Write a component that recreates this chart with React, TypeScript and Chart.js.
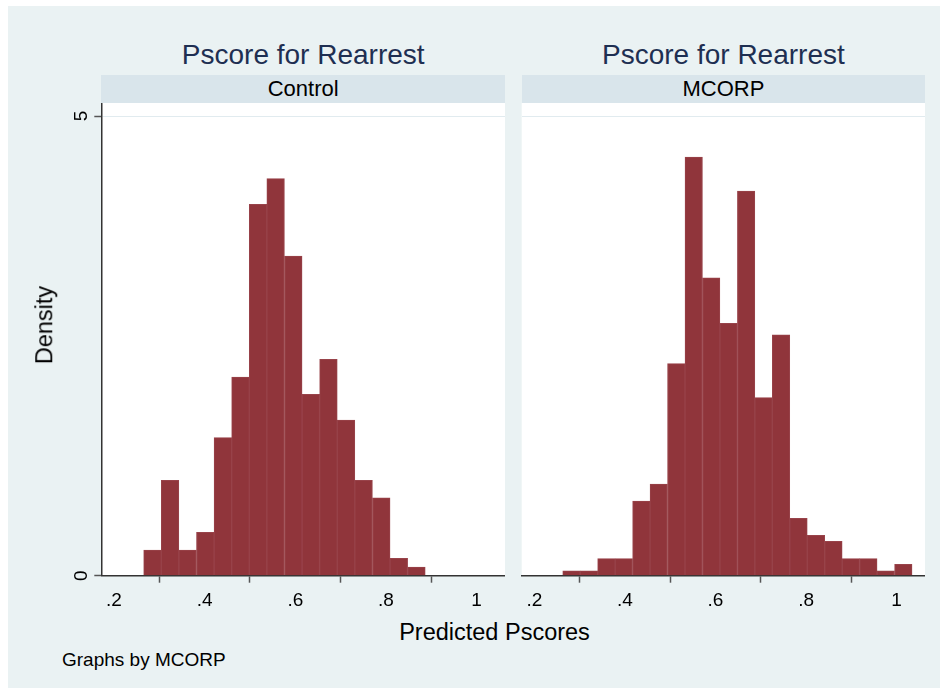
import React, { useEffect, useRef } from "react";
import { Chart, registerables } from "chart.js";

Chart.register(...registerables);

// ---- data ----
const controlBinCenters = [
  0.2849, 0.3237, 0.3625, 0.4014, 0.4402, 0.479, 0.5178, 0.5566, 0.5955,
  0.6343, 0.6731, 0.7119, 0.7507, 0.7896, 0.8284, 0.8672,
];
const controlDensity = [
  0.279, 1.037, 0.279, 0.471, 1.501, 2.161, 4.039, 4.318, 3.477, 1.972, 2.353,
  1.693, 1.037, 0.848, 0.189, 0.094,
];
const mcorpBinCenters = [
  0.2819, 0.3205, 0.359, 0.3976, 0.4362, 0.4747, 0.5133, 0.5519, 0.5904, 0.629,
  0.6676, 0.7061, 0.7447, 0.7833, 0.8218, 0.8604, 0.899, 0.9375, 0.9761, 1.0147,
];
const mcorpDensity = [
  0.054, 0.054, 0.185, 0.185, 0.812, 0.997, 2.306, 4.554, 3.241, 2.745, 4.184,
  1.936, 2.621, 0.624, 0.439, 0.373, 0.185, 0.185, 0.054, 0.123,
];
const xTickValues = [0.2, 0.4, 0.6, 0.8, 1];
const xTickLabels = [".2", ".4", ".6", ".8", "1"];
const yTickValues = [0, 5];
const yTickLabels = ["0", "5"];
const panelTitles = ["Pscore for Rearrest", "Pscore for Rearrest"];
const panelStrips = ["Control", "MCORP"];
const yAxisTitle = "Density";
const xAxisTitle = "Predicted Pscores";
const noteText = "Graphs by MCORP";

const FONT = "'Liberation Sans', Arial, sans-serif";
const BG = "#EAF2F3";
const STRIP = "#D9E5EB";
const BAR = "#90353B";
const BAR_EDGE = "#98434A";
const TITLE_COLOR = "#1E2F52";

const whiteArea = {
  id: "whiteArea",
  beforeDraw(chart: any) {
    const { ctx, chartArea } = chart;
    ctx.save();
    ctx.fillStyle = "#FFFFFF";
    ctx.fillRect(
      chartArea.left,
      chartArea.top,
      chartArea.right - chartArea.left,
      chartArea.bottom - chartArea.top
    );
    ctx.restore();
  },
};

const zeroPad = (s: any) => {
  s.paddingTop = 0;
  s.paddingBottom = 0;
  s.paddingLeft = 0;
  s.paddingRight = 0;
};

function makeChart(
  canvas: HTMLCanvasElement,
  centers: number[],
  values: number[],
  showY: boolean,
  yWidth: number
) {
  return new Chart(canvas, {
    type: "bar",
    data: {
      datasets: [
        {
          data: centers.map((x, i) => ({ x, y: values[i] })),
          backgroundColor: BAR,
          borderColor: BAR_EDGE,
          borderWidth: 1,
          barPercentage: 1,
          categoryPercentage: 1,
        } as any,
      ],
    },
    options: {
      animation: false,
      responsive: false,
      maintainAspectRatio: false,
      layout: { padding: 0 },
      plugins: {
        legend: { display: false },
        tooltip: { enabled: false },
        title: { display: false },
      },
      scales: {
        x: {
          type: "linear",
          min: 0.172,
          max: 1.0626,
          offset: false,
          afterBuildTicks: (s: any) => {
            s.ticks = xTickValues.map((v) => ({ value: v }));
          },
          afterFit: (s: any) => {
            s.height = 40.3;
            zeroPad(s);
          },
          ticks: {
            autoSkip: false,
            maxRotation: 0,
            minRotation: 0,
            padding: 7,
            color: "#000",
            font: { family: FONT, size: 19 },
            callback: (_v: any, i: number) => xTickLabels[i],
          },
          grid: {
            drawOnChartArea: false,
            drawTicks: true,
            tickLength: 7,
            tickColor: "#555",
            tickWidth: 1.5,
          },
          border: { display: true, color: "#333", width: 1.5 },
        },
        y: {
          type: "linear",
          min: 0,
          max: 5.1414,
          afterBuildTicks: (s: any) => {
            s.ticks = yTickValues.map((v) => ({ value: v }));
          },
          afterFit: (s: any) => {
            s.width = yWidth;
            zeroPad(s);
          },
          ticks: {
            display: showY,
            minRotation: 90,
            maxRotation: 90,
            crossAlign: "center",
            padding: 7,
            color: "#000",
            font: { family: FONT, size: 19 },
            callback: (_v: any, i: number) => yTickLabels[i],
          },
          grid: {
            color: "#E1EBEF",
            lineWidth: 1,
            drawTicks: showY,
            tickLength: 7,
            tickColor: "#555",
            tickWidth: 1.5,
          },
          border: { display: showY, color: "#333", width: 1.5 },
        },
      },
    } as any,
    plugins: [whiteArea],
  });
}

const textStyle = (
  x: number,
  y: number,
  size: number,
  color = "#000",
  rotate = 0,
  anchor: "center" | "left" = "center"
): React.CSSProperties => ({
  position: "absolute",
  left: x,
  top: y,
  fontFamily: FONT,
  fontSize: size,
  color,
  lineHeight: 1,
  whiteSpace: "nowrap",
  transform:
    (anchor === "center" ? "translate(-50%, -50%)" : "translate(0, -50%)") +
    (rotate ? ` rotate(${rotate}deg)` : ""),
});

export default function App() {
  const leftRef = useRef<HTMLCanvasElement>(null);
  const rightRef = useRef<HTMLCanvasElement>(null);

  useEffect(() => {
    const c1 = makeChart(leftRef.current!, controlBinCenters, controlDensity, true, 101.3);
    const c2 = makeChart(rightRef.current!, mcorpBinCenters, mcorpDensity, false, 16.7);
    return () => {
      c1.destroy();
      c2.destroy();
    };
  }, []);

  return (
    <div
      style={{
        position: "absolute",
        left: 0,
        top: 0,
        width: 947,
        height: 692,
        background: "#FFFFFF",
        overflow: "hidden",
      }}
    >
      <div
        style={{
          position: "absolute",
          left: 8,
          top: 6,
          width: 932,
          height: 682,
          background: BG,
        }}
      />
      {/* strips */}
      <div
        style={{
          position: "absolute",
          left: 101.3,
          top: 74.7,
          width: 403.7,
          height: 28,
          background: STRIP,
        }}
      />
      <div
        style={{
          position: "absolute",
          left: 521.7,
          top: 74.7,
          width: 403.3,
          height: 28,
          background: STRIP,
        }}
      />
      <div style={textStyle(303.2, 55, 28, TITLE_COLOR)}>{panelTitles[0]}</div>
      <div style={textStyle(723.4, 55, 28, TITLE_COLOR)}>{panelTitles[1]}</div>
      <div style={textStyle(303.2, 89, 22)}>{panelStrips[0]}</div>
      <div style={textStyle(723.4, 89, 22)}>{panelStrips[1]}</div>

      <canvas
        ref={leftRef}
        width={505}
        height={513}
        style={{ position: "absolute", left: 0, top: 103, width: 505, height: 513 }}
      />
      <canvas
        ref={rightRef}
        width={420}
        height={513}
        style={{ position: "absolute", left: 505, top: 103, width: 420, height: 513 }}
      />

      <div style={textStyle(45, 325, 23.5, "#000", -90)}>{yAxisTitle}</div>
      <div style={textStyle(494.5, 633, 23.5)}>{xAxisTitle}</div>
      <div style={textStyle(62, 659, 19, "#000", 0, "left")}>{noteText}</div>
    </div>
  );
}
